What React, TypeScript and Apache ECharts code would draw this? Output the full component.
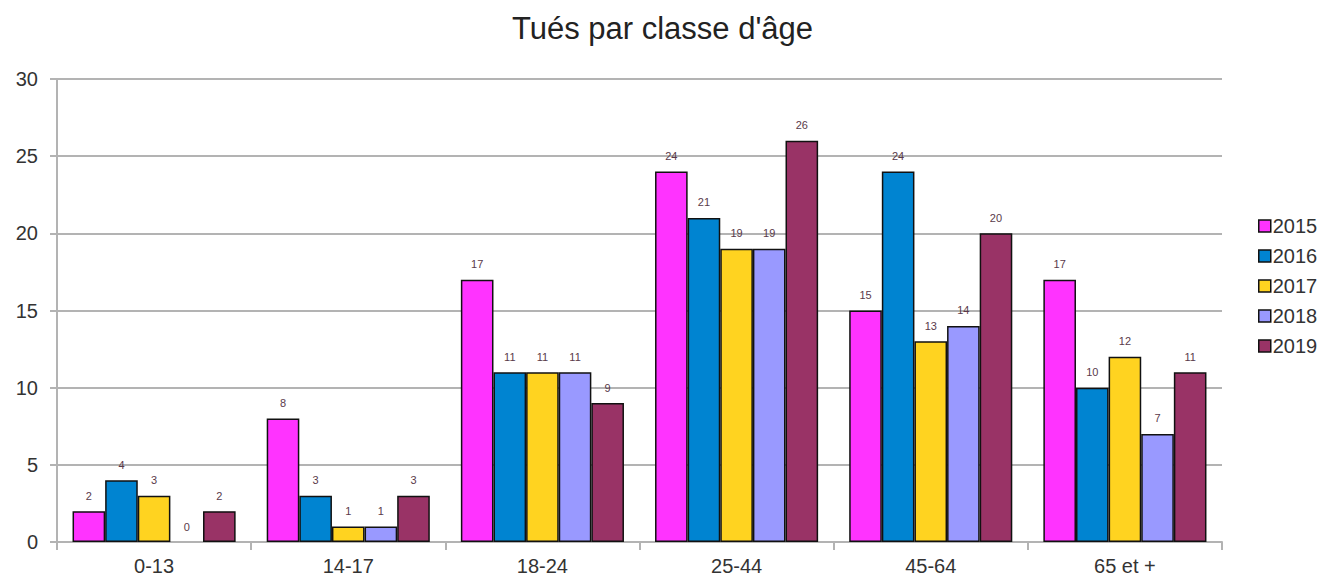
import React, { useEffect, useRef } from "react";
import * as echarts from "echarts";

const categories = ["0-13", "14-17", "18-24", "25-44", "45-64", "65 et +"];
const years = ["2015", "2016", "2017", "2018", "2019"];
const v2015 = [2, 8, 17, 24, 15, 17];
const v2016 = [4, 3, 11, 21, 24, 10];
const v2017 = [3, 1, 11, 19, 13, 12];
const v2018 = [0, 1, 11, 19, 14, 7];
const v2019 = [2, 3, 9, 26, 20, 11];
const colors = ["#ff33ff", "#0084d1", "#ffd320", "#9999ff", "#993366"];

export default function App() {
  const ref = useRef<HTMLDivElement>(null);
  useEffect(() => {
    const chart = echarts.init(ref.current!, null, { renderer: "svg" });
    const all = [v2015, v2016, v2017, v2018, v2019];
    const font = "Liberation Sans, Arial, sans-serif";
    chart.setOption({
      animation: false,
      title: {
        text: "Tués par classe d'âge",
        left: "center",
        top: 8,
        textStyle: { fontFamily: font, fontSize: 31, fontWeight: "normal", color: "#222" },
      },
      legend: {
        orient: "vertical",
        left: 1253,
        top: 211,
        itemWidth: 12,
        itemHeight: 12,
        itemGap: 10,
        icon: "rect",
        itemStyle: { borderColor: "#111", borderWidth: 1.5 },
        textStyle: { fontFamily: font, fontSize: 20, color: "#333", padding: [0, 0, 0, -3] },
        data: years,
      },
      grid: { left: 57, right: 103, top: 79, bottom: 38, containLabel: false },
      xAxis: {
        type: "category",
        data: categories,
        axisLine: { lineStyle: { color: "#b3b3b3", width: 2 } },
        axisTick: { show: true, length: 8, lineStyle: { color: "#b3b3b3", width: 2 } },
        axisLabel: { fontFamily: font, fontSize: 20, color: "#333", margin: 14 },
      },
      yAxis: {
        type: "value",
        min: 0,
        max: 30,
        interval: 5,
        axisLine: { show: true, lineStyle: { color: "#b3b3b3", width: 2 } },
        axisTick: { show: true, length: 7, lineStyle: { color: "#b3b3b3", width: 2 } },
        splitLine: { lineStyle: { color: "#b3b3b3", width: 2 } },
        axisLabel: { fontFamily: font, fontSize: 20, color: "#333", margin: 19 },
      },
      series: years.map((y, i) => ({
        name: y,
        type: "bar",
        data: all[i].map((v) => (v === 0 ? { value: v, itemStyle: { borderWidth: 0 } } : v)),
        barGap: "0%",
        barCategoryGap: "16%",
        itemStyle: { color: colors[i], borderColor: "#111", borderWidth: 1.5 },
        label: {
          show: true,
          position: "top",
          distance: 10,
          fontFamily: font,
          fontSize: 11,
          color: "#5a3a4a",
        },
      })),
    });
    return () => chart.dispose();
  }, []);
  return (
    <div
      ref={ref}
      style={{ position: "absolute", left: 0, top: 0, width: 1325, height: 580 }}
    />
  );
}
